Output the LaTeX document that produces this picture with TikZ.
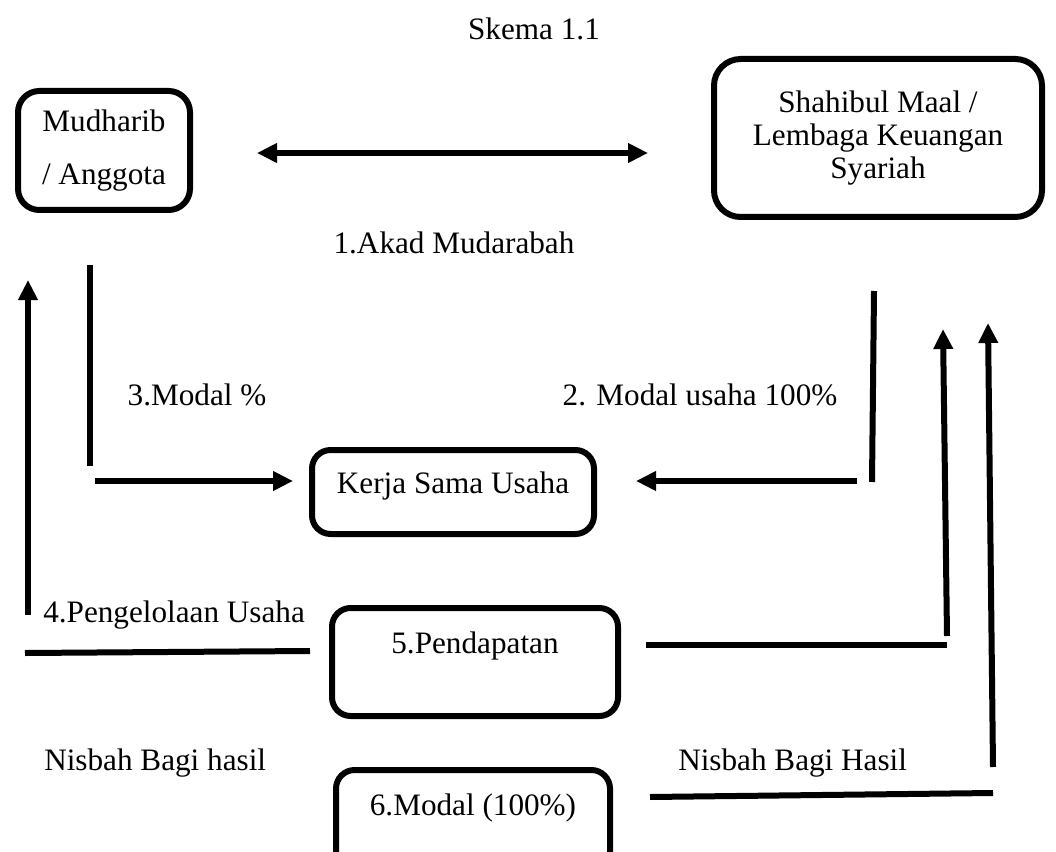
\documentclass[tikz,border=0pt]{standalone}
\usepackage{fontspec}
\setmainfont{Liberation Serif}
\usetikzlibrary{positioning,arrows.meta}

\begin{document}
\begin{tikzpicture}[x=0.75pt,y=-0.75pt,
		font=\fontsize{23.4pt}{28pt}\selectfont,
		box/.style={draw, line width=4.5pt, rounded corners=14pt, align=center},
		lbl/.style={inner sep=0pt, anchor=base},
		flow/.style={line width=4.5pt},
		flowarrow/.style={flow, -{Triangle[length=15pt,width=14pt]}}]
					\pgfmathsetmacro{\ArrowY}{481}
					\pgfmathsetmacro{\LabelY}{405}
					\pgfmathsetmacro{\NisbahY}{770}
					\useasboundingbox (0,0) rectangle (1056,852);
					\clip (0,0) rectangle (1056,852);
					% TOP
					\node[lbl] (skema) at (534,40) {Skema 1.1};
					\node[box, minimum width=129pt, minimum height=89.25pt, rounded corners=16pt, font=\fontsize{23.4pt}{39.75pt}\selectfont] (mudharib) at (104,150.5) {Mudharib\\/ Anggota};
					\node[box, minimum width=246pt, minimum height=118.5pt, rounded corners=20pt, font=\fontsize{23.4pt}{24.75pt}\selectfont] (shahibul) at (878,138) {Shahibul Maal /\\Lembaga Keuangan\\Syariah};
					\coordinate (akadL) at (257,153);
					\coordinate (akadR) at (648,153);
					\draw[flow, {Triangle[length=15pt,width=14pt]}-{Triangle[length=15pt,width=14pt]}] (akadL) -- (akadR);
					\node[lbl] (akad) at (454,253) {1.Akad Mudarabah};
					% MIDDLE
					\node[box, anchor=base, inner ysep=0pt, text height=32.25pt, text depth=30.75pt, minimum width=211.5pt] (kerja) at (453,493) {Kerja Sama Usaha};
					\node[lbl] (modalpersen) at (197,\LabelY) {3.Modal \%};
					\node[lbl] (modalusaha) at (700,\LabelY) {2. Modal usaha 100\%};
					\coordinate (persenA) at (90,265);
					\coordinate (persenB) at (90,466);
					\coordinate (persenC) at (95,\ArrowY);
					\coordinate (kerjaL) at (293,\ArrowY);
					\draw[flow] (persenA) -- (persenB);
					\draw[flowarrow] (persenC) -- (kerjaL);
					\coordinate (usahaA) at (874,291);
					\coordinate (usahaB) at (872,482);
					\coordinate (usahaC) at (857,\ArrowY);
					\coordinate (kerjaR) at (636,\ArrowY);
					\draw[flow] (usahaA) -- (usahaB);
					\draw[flowarrow] (usahaC) -- (kerjaR);
					% BOTTOM
					\node[lbl, anchor=base west] (kelola) at (43,622) {4.Pengelolaan Usaha};
					\node[box, anchor=base, inner ysep=0pt, text height=33.75pt, text depth=47.25pt, minimum width=214.5pt] (pendapatan) at (475,653) {5.Pendapatan};
					\node[box, anchor=base, inner ysep=0pt, text height=33.75pt, text depth=52.5pt, minimum width=205.5pt] (modal) at (473,815) {6.Modal (100\%)};
					\node[lbl, anchor=base west] (nisbahkiri) at (44,\NisbahY) {Nisbah Bagi hasil};
					\node[lbl, anchor=base west] (nisbahkanan) at (678,\NisbahY) {Nisbah Bagi Hasil};
					\coordinate (kelolaA) at (28,615);
					\coordinate (kelolaB) at (28,280);
					\coordinate (kelolaC) at (25,653);
					\coordinate (kelolaD) at (310,651);
					\draw[flowarrow] (kelolaA) -- (kelolaB);
					\draw[flow] (kelolaC) -- (kelolaD);
					\coordinate (dapatA) at (646,645);
					\coordinate (dapatB) at (947,645);
					\coordinate (dapatC) at (947,636);
					\coordinate (dapatD) at (943,329);
					\draw[flow] (dapatA) -- (dapatB);
					\draw[flowarrow] (dapatC) -- (dapatD);
					\coordinate (modalA) at (650,797);
					\coordinate (modalB) at (993,793);
					\coordinate (modalC) at (993,767);
					\coordinate (modalD) at (988,323);
					\draw[flow] (modalA) -- (modalB);
					\draw[flowarrow] (modalC) -- (modalD);
				\end{tikzpicture}
\end{document}
